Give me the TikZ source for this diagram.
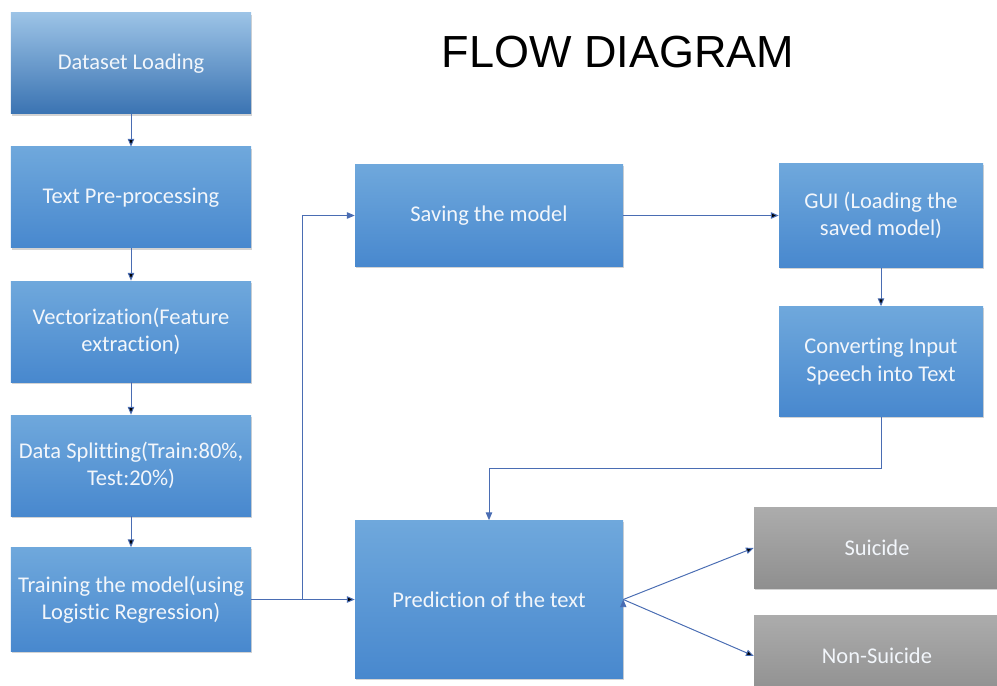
\documentclass[tikz,border=0pt]{standalone}
\usepackage{fontspec}
\setmainfont{Carlito}[Ligatures=NoCommon]
\newfontfamily\titlefont{Liberation Sans}
\usepackage{tikz}
\usetikzlibrary{positioning,arrows.meta,shadows}

\definecolor{bluetop}{HTML}{6FA8DC}
\definecolor{bluebot}{HTML}{4888CE}
\definecolor{firsttop}{HTML}{9CC3E6}
\definecolor{firstbot}{HTML}{3A73B2}
\definecolor{graytop}{HTML}{ACACAC}
\definecolor{graybot}{HTML}{8F8F8F}
\definecolor{linkblue}{HTML}{4A6DB3}
\definecolor{boxtext}{HTML}{F2F6FB}

\tikzset{
  block/.style={rectangle, minimum width=6cm, minimum height=2.525cm,
    top color=bluetop, bottom color=bluebot, text=boxtext, align=center,
    font=\fontsize{16}{19.5}\selectfont,
    drop shadow={shadow xshift=0.6pt, shadow yshift=-1.2pt, opacity=0.35}},
  firstblock/.style={block, top color=firsttop, bottom color=firstbot},
  result/.style={block, top color=graytop, bottom color=graybot,
    minimum width=6.15cm, minimum height=2.025cm},
  heading/.style={font=\titlefont\fontsize{32}{36}\selectfont},
  flow/.style={draw=linkblue, line width=0.7pt,
    -{Triangle[length=5.5pt,width=4.5pt]}}
}

\begin{document}
\begin{tikzpicture}[node distance=3.35cm,on grid]
   \clip (0,0) rectangle (24.925,-17.15);
   \node[heading] (title) at (15.45,-1.3) {FLOW DIAGRAM};

   \node[firstblock] (load) at (3.275,-1.5875) {Dataset Loading};
   \node[block] (prep)  [below=of load]  {Text Pre-processing};
   \node[block] (vect)  [below=of prep]  {Vectorization(Feature\\extraction)};
   \node[block] (split) [below=of vect]  {Data Splitting(Train:80\%,\\Test:20\%)};
   \node[block, minimum height=2.6cm] (train) [below=of split] {Training the model(using\\Logistic Regression)};

   \node[block, minimum width=6.7cm, minimum height=3.95cm] (pred) [right=8.95cm of train] {Prediction of the text};
   \node[block, minimum width=6.7cm, minimum height=2.55cm] (save) [above=9.6cm of pred] {Saving the model};
   \node[block, minimum width=5.1cm, minimum height=2.6cm] (gui) [right=9.8cm of save] {GUI (Loading the\\saved model)};
   \node[block, minimum width=5.1cm, minimum height=2.75cm] (conv) [below=3.65cm of gui] {Converting Input\\Speech into Text};

   \node[result] (sui) [above right=1.29cm and 9.7cm of pred] {Suicide};
   \node[result] (nonsui) [below=2.7cm of sui] {Non-Suicide};

   \path[flow]
    (load) edge (prep)
    (prep) edge (vect)
    (vect) edge (split)
    (split) edge (train)
    (train) edge (pred)
    (save) edge (gui)
    (gui) edge (conv)
    (pred.east) edge (sui.west)
    (pred.east) edge (nonsui.west);

   \draw[flow] (train.east) -- ++(1.275,0) |- (save.west);
   \draw[flow] (conv.south) -- ++(0,-1.3) -| (pred.north);
\end{tikzpicture}
\end{document}
